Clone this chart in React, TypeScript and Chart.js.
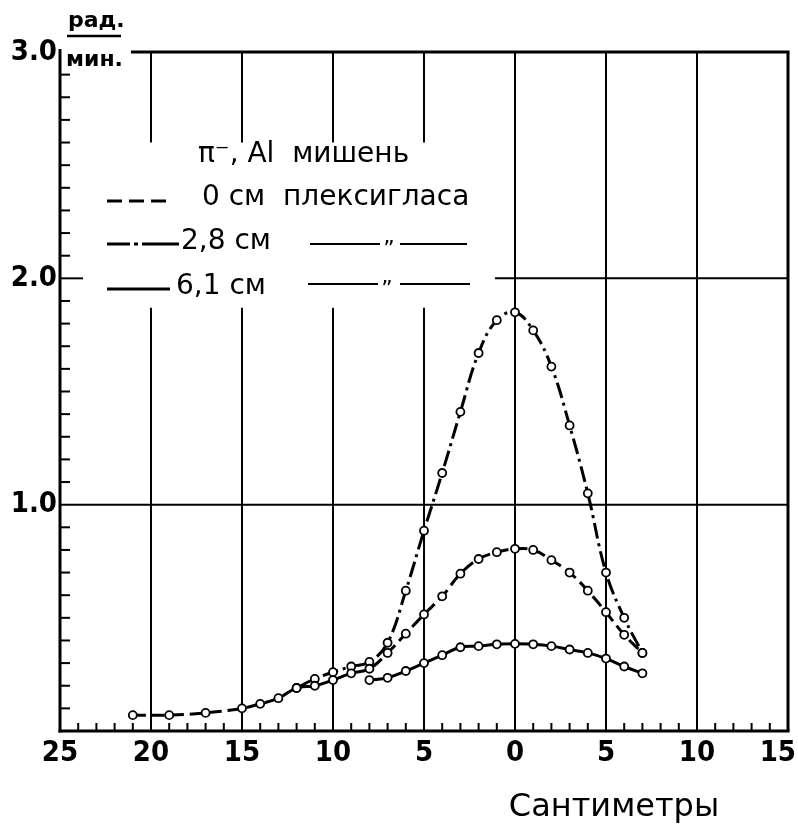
import React, { useEffect, useRef } from "react";
import { Chart, registerables } from "chart.js";

Chart.register(...registerables);

// ---- data ----
const xDashed = [-21, -19, -17, -15, -14, -13, -12, -11, -10, -9, -8, -7, -6, -5, -4, -3, -2, -1, 0, 1, 2, 3, 4, 5, 6, 7];
const yDashed = [0.07, 0.07, 0.08, 0.1, 0.12, 0.145, 0.19, 0.2, 0.225, 0.255, 0.275, 0.345, 0.43, 0.515, 0.595, 0.695, 0.76, 0.79, 0.805, 0.8, 0.755, 0.7, 0.62, 0.525, 0.425, 0.345];

const xDashDot = [-12, -11, -10, -9, -8, -7, -6, -5, -4, -3, -2, -1, 0, 1, 2, 3, 4, 5, 6, 7];
const yDashDot = [0.19, 0.23, 0.26, 0.285, 0.305, 0.39, 0.62, 0.885, 1.14, 1.41, 1.67, 1.815, 1.85, 1.77, 1.61, 1.35, 1.05, 0.7, 0.5, 0.345];

const xSolid = [-8, -7, -6, -5, -4, -3, -2, -1, 0, 1, 2, 3, 4, 5, 6, 7];
const ySolid = [0.225, 0.235, 0.265, 0.3, 0.335, 0.37, 0.375, 0.383, 0.385, 0.383, 0.375, 0.36, 0.345, 0.32, 0.285, 0.255];

const xMin = -25;
const xMax = 15;
const xStep = 5;
const yMin = 0;
const yMax = 3;
const yStep = 1;

const legendTitle = "π⁻, Al  мишень";
const legendLabels = ["0 см  плексигласа", "2,8 см", "6,1 см"];
const dittoMark = "\u201D";
const unitTop = "рад.";
const unitBottom = "мин.";
const xTitle = "Сантиметры";

const TICK_FONT = "'DejaVu Sans Condensed', 'DejaVu Sans', sans-serif";
const TEXT_FONT = "'DejaVu Sans', sans-serif";

const toPoints = (xs: number[], ys: number[]) => xs.map((x, i) => ({ x, y: ys[i] }));
const xLabel = (v: number) => String(Math.abs(v));

const paperPlugin = {
  id: "paper",
  beforeDatasetsDraw(chart: any) {
    const ctx = chart.ctx as CanvasRenderingContext2D;
    const xs = chart.scales.x;
    const ys = chart.scales.y;
    const X = (v: number) => xs.getPixelForValue(v);
    const Y = (v: number) => ys.getPixelForValue(v);
    const line = (x1: number, y1: number, x2: number, y2: number) => {
      ctx.beginPath();
      ctx.moveTo(x1, y1);
      ctx.lineTo(x2, y2);
      ctx.stroke();
    };
    ctx.save();
    ctx.strokeStyle = "#000";
    ctx.fillStyle = "#000";
    ctx.setLineDash([]);

    // grid lines
    ctx.lineWidth = 2;
    for (const g of [-20, -15, -10, -5]) {
      line(X(g), Y(3), X(g), Y(2.6));
      line(X(g), Y(1.87), X(g), Y(0));
    }
    for (const g of [0, 5, 10]) line(X(g), Y(3), X(g), Y(0));
    line(X(-25), Y(1), X(15), Y(1));
    line(X(-1.1), Y(2), X(15), Y(2));

    // frame
    ctx.lineWidth = 3;
    line(X(-25), Y(3) - 3, X(-25), Y(0) + 1.5);
    line(X(-25) - 1.5, Y(0), X(15) + 1.5, Y(0));
    line(X(15), Y(3), X(15), Y(0));
    line(X(-21.1), Y(3), X(15) + 1.5, Y(3));

    // minor ticks
    ctx.lineWidth = 2;
    for (let v = -24; v < 15; v++) if (v % 5 !== 0) line(X(v), Y(0), X(v), Y(0) - 8);
    for (let i = 1; i < 30; i++) if (i % 10 !== 0) line(X(-25), Y(i / 10), X(-25) + 10, Y(i / 10));
    line(X(-25), Y(2), X(-25) + 23, Y(2));

    // x tick labels (kept inside the canvas)
    ctx.font = `bold 29px ${TICK_FONT}`;
    ctx.textAlign = "center";
    ctx.textBaseline = "middle";
    for (const t of xs.ticks) {
      const s = xLabel(t.value);
      const w = ctx.measureText(s).width;
      let px = X(t.value);
      px = Math.min(px, chart.width - w / 2 - 2);
      ctx.fillText(s, px, Y(0) + 22);
    }

    // unit label
    ctx.font = `bold 22px ${TEXT_FONT}`;
    ctx.textBaseline = "middle";
    ctx.textAlign = "left";
    ctx.fillText(unitTop, 68, 21);
    ctx.lineWidth = 2.5;
    line(67, 36, 121, 36);
    ctx.fillText(unitBottom, 66, 60);

    // legend
    ctx.font = `28px ${TEXT_FONT}`;
    ctx.fillText(legendTitle, 198, 155);
    ctx.fillText(legendLabels[0], 202, 198);
    ctx.fillText(legendLabels[1], 181, 242);
    ctx.fillText(legendLabels[2], 176, 287);

    ctx.lineWidth = 3;
    ctx.setLineDash([15, 7]);
    line(107, 201, 173, 201);
    ctx.setLineDash([]);
    line(107, 244, 130, 244);
    line(134, 244, 138, 244);
    line(142, 244, 179, 244);
    line(107, 289, 170, 289);

    ctx.lineWidth = 2;
    line(310, 244, 380, 244);
    line(400, 244, 467, 244);
    line(308, 284, 378, 284);
    line(400, 284, 470, 284);
    ctx.font = `22px ${TEXT_FONT}`;
    ctx.textAlign = "center";
    ctx.fillText(dittoMark, 389, 250);
    ctx.fillText(dittoMark, 387, 290);

    // x title
    ctx.font = `32px ${TEXT_FONT}`;
    ctx.textAlign = "center";
    ctx.fillText(xTitle, 614, 808);

    ctx.restore();
  },
};

export default function App() {
  const ref = useRef<HTMLCanvasElement | null>(null);

  useEffect(() => {
    if (!ref.current) return;
    const common = {
      borderColor: "#000",
      borderWidth: 3,
      pointRadius: 4,
      pointBorderWidth: 1.8,
      pointBackgroundColor: "#fff",
      pointBorderColor: "#000",
      tension: 0.4,
      fill: false,
    };
    const chart = new Chart(ref.current, {
      type: "line",
      data: {
        datasets: [
          { ...common, label: "0 см", data: toPoints(xDashed, yDashed), borderDash: [13, 6] },
          { ...common, label: "2,8 см", data: toPoints(xDashDot, yDashDot), borderDash: [16, 5, 3, 5] },
          { ...common, label: "6,1 см", data: toPoints(xSolid, ySolid) },
        ],
      },
      options: {
        animation: false,
        responsive: false,
        devicePixelRatio: 1,
        layout: { padding: { top: 52, right: 10, left: 0, bottom: 0 } },
        plugins: { legend: { display: false }, tooltip: { enabled: false } },
        scales: {
          x: {
            type: "linear",
            min: xMin,
            max: xMax,
            grid: { display: false, drawTicks: false },
            border: { display: false },
            ticks: {
              display: false,
              stepSize: xStep,
              autoSkip: false,
              maxRotation: 0,
              callback: (v: any) => xLabel(Number(v)),
            },
            afterFit: (s: any) => {
              s.height = 96;
              s.paddingLeft = 0;
              s.paddingRight = 0;
            },
          },
          y: {
            type: "linear",
            min: yMin,
            max: yMax,
            grid: { display: false, drawTicks: false },
            border: { display: false },
            ticks: {
              stepSize: yStep,
              padding: 3,
              color: "#000",
              font: { family: TICK_FONT, size: 29, weight: "bold" },
              callback: (v: any) => (Number(v) === 0 ? "" : Number(v).toFixed(1)),
            },
            afterFit: (s: any) => {
              s.width = 60;
              s.paddingTop = 0;
              s.paddingBottom = 0;
            },
          },
        },
      },
      plugins: [paperPlugin],
    } as any);
    return () => chart.destroy();
  }, []);

  return (
    <div style={{ position: "absolute", left: 0, top: 0, width: 798, height: 827, background: "#fff" }}>
      <canvas ref={ref} width={798} height={827} />
    </div>
  );
}
